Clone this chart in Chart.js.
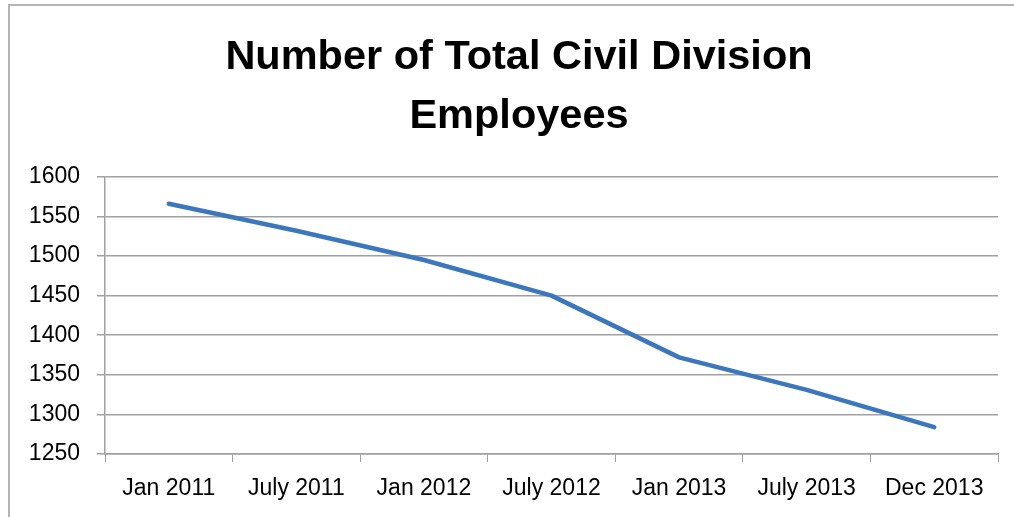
<!DOCTYPE html>
<html>
<head>
<meta charset="utf-8">
<script src="https://cdn.jsdelivr.net/npm/chart.js@4.4.1/dist/chart.umd.min.js"></script>
<style>
  html, body { margin: 0; padding: 0; background: #fff; overflow: hidden; }
  #frame {
    position: absolute; left: 8px; top: 4px; width: 1100px; height: 600px;
    border-left: 2px solid #b4b4b4; border-top: 2px solid #b4b4b4;
  }
  /* canvas runs past the window edge so the title centres like the original frame */
  #wrap { position: absolute; left: 0; top: 0; width: 1054px; height: 517px; }
</style>
</head>
<body>
<div id="frame"></div>
<div id="wrap"><canvas id="chart"></canvas></div>
<script>
const categories = ['Jan 2011', 'July 2011', 'Jan 2012', 'July 2012', 'Jan 2013', 'July 2013', 'Dec 2013'];
const employees = [1566, 1532, 1495, 1450, 1372, 1331, 1284];
const titleLines = ['Number of Total Civil Division', 'Employees'];

const gridColor = '#a0a0a0';
const labelFont = { family: 'Liberation Sans', size: 23 };

const ctx = document.getElementById('chart').getContext('2d');
new Chart(ctx, {
    type: 'line',
    data: {
        labels: categories,
        datasets: [{
            label: 'Employees',
            data: employees,
            borderColor: '#3c77bd',
            borderWidth: 4.5,
            borderCapStyle: 'round',
            borderJoinStyle: 'round',
            pointRadius: 0,
            tension: 0,
            fill: false
        }]
    },
    options: {
        responsive: true,
        maintainAspectRatio: false,
        animation: false,
        layout: { padding: { left: 0, right: 16, top: 0, bottom: 0 } },
        plugins: {
            legend: { display: false },
            tooltip: { enabled: false },
            title: {
                display: true,
                text: titleLines,
                color: '#000',
                font: { family: 'Liberation Sans', size: 41.5, weight: 'bold', lineHeight: 1.42 },
                padding: { top: 28, bottom: 31 }
            }
        },
        scales: {
            x: {
                offset: true,
                grid: {
                    offset: true,
                    drawOnChartArea: false,
                    drawTicks: true,
                    tickLength: 8,
                    color: gridColor
                },
                border: { color: gridColor, width: 1.5 },
                ticks: {
                    color: '#000',
                    font: labelFont,
                    padding: 13,
                    maxRotation: 0,
                    autoSkip: false
                },
                afterFit: (scale) => { scale.height = 63; }
            },
            y: {
                min: 1250,
                max: 1600,
                ticks: {
                    stepSize: 50,
                    color: '#000',
                    font: labelFont,
                    padding: 17,
                    callback: (v) => String(v)
                },
                grid: {
                    color: gridColor,
                    lineWidth: 1.5,
                    tickLength: 8
                },
                border: { color: gridColor, width: 1.5 },
                afterFit: (scale) => { scale.width = 105; }
            },
            // empty spacer on the right, keeps the plot edge at the same place
            spacer: {
                type: 'linear',
                position: 'right',
                grid: { display: false },
                border: { display: false },
                ticks: { display: false },
                afterFit: (scale) => { scale.width = 40; }
            }
        }
    }
});
</script>
</body>
</html>
